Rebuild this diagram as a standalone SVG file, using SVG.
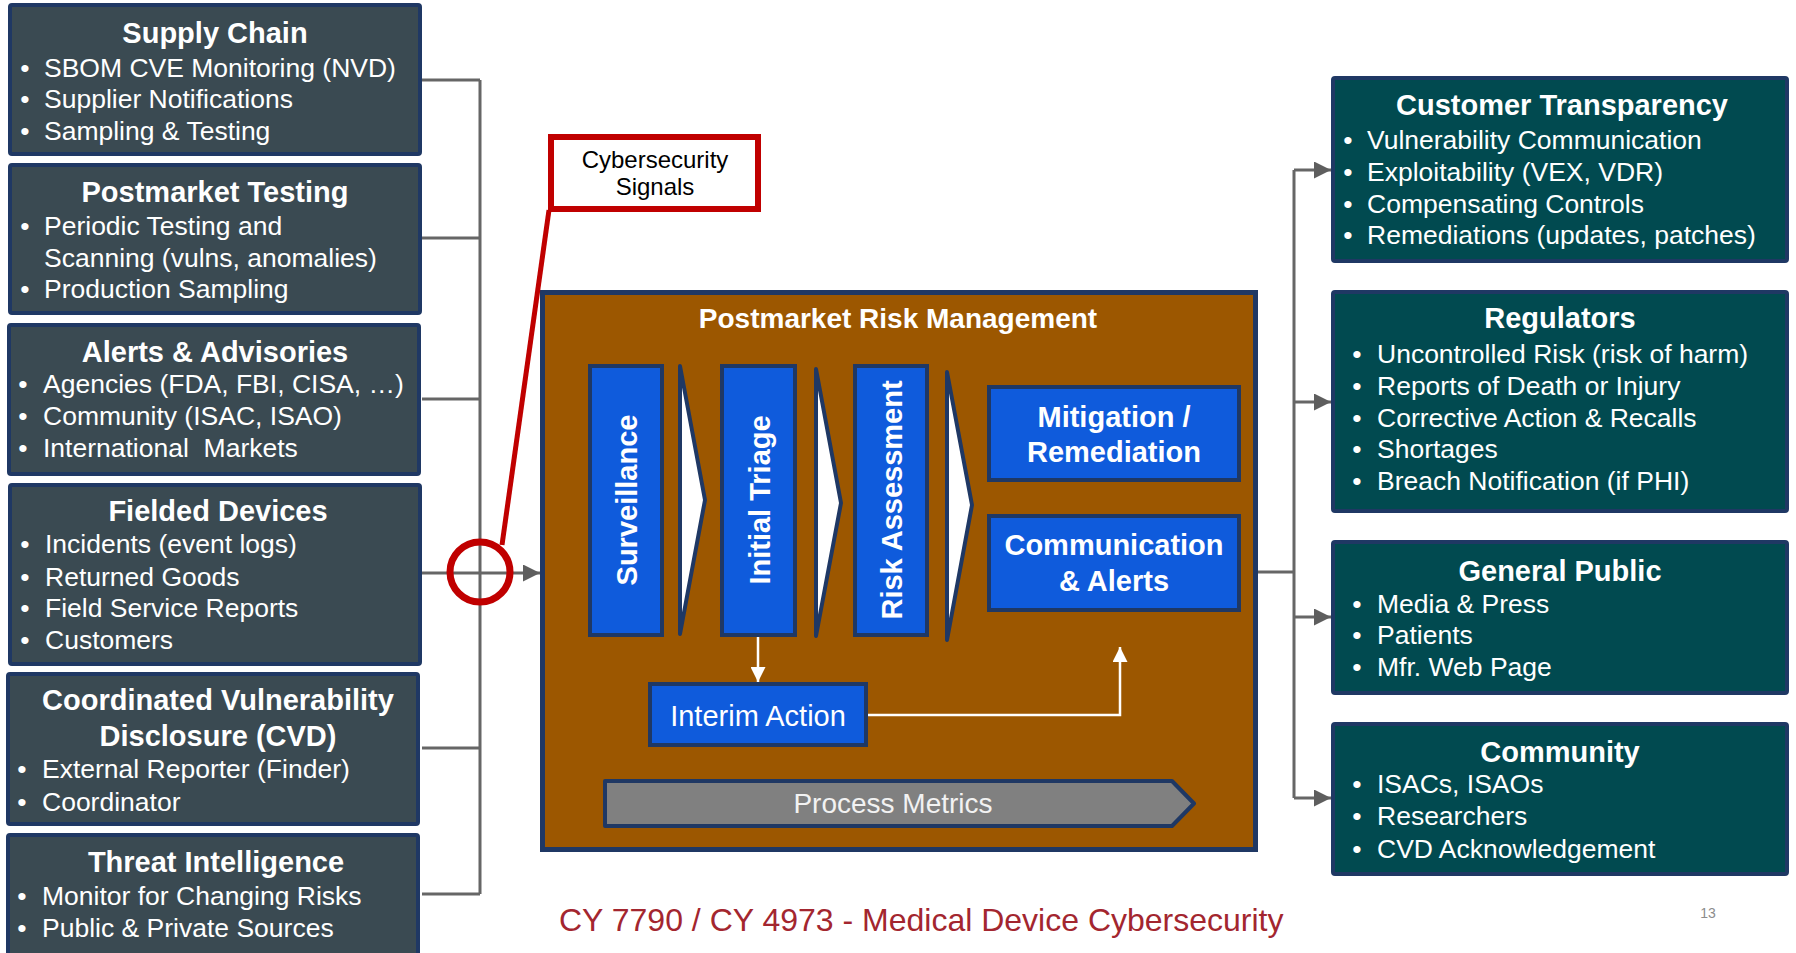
<svg xmlns="http://www.w3.org/2000/svg" width="1796" height="953" viewBox="0 0 1796 953">
  <defs>
    <marker id="ah-gray" viewBox="0 0 10 10" refX="10" refY="5" markerWidth="17" markerHeight="17" markerUnits="userSpaceOnUse" orient="auto">
      <path d="M0,0 L10,5 L0,10 z" fill="#5E5E5E"/>
    </marker>
    <marker id="ah-white" viewBox="0 0 10 10" refX="10" refY="5" markerWidth="15" markerHeight="15" markerUnits="userSpaceOnUse" orient="auto">
      <path d="M0,0 L10,5 L0,10 z" fill="#FFFFFF"/>
    </marker>
    <style>
      text { font-family: "Liberation Sans", Arial, sans-serif; fill: #FFFFFF; }
      .src rect { fill: #3A4A52; stroke: #1F3864; stroke-width: 4; }
      .dst rect { fill: #014A50; stroke: #1F3864; stroke-width: 4; }
      .t { font-size: 29px; font-weight: bold; text-anchor: middle; }
      .b { font-size: 26.5px; }
      .d { font-size: 26.5px; text-anchor: middle; }
      .step { fill: #0F5BDC; stroke: #1F3864; stroke-width: 4; }
      .chev { fill: #FFFFFF; stroke: #1F3864; stroke-width: 4; stroke-linejoin: round; }
      .vt { font-size: 29px; font-weight: bold; text-anchor: middle; }
      .bt { font-size: 29px; font-weight: bold; text-anchor: middle; }
      .wire { fill: none; stroke: #666666; stroke-width: 3; }
      .flow { fill: none; stroke: #FFFFFF; stroke-width: 2.5; }
      .sig { font-size: 24px; text-anchor: middle; fill: #000000; }
      .foot { font-size: 32px; fill: #A3262F; }
      .page { font-size: 14px; text-anchor: middle; fill: #8C8C8C; }
      .pm { font-size: 28px; text-anchor: middle; fill: #F2F2F2; }
    </style>
  </defs>

  <rect width="1796" height="953" fill="#FFFFFF"/>

  <!-- connectors -->
  <g id="connectors">
    <path class="wire" d="M422,80 H480 M422,238 H480 M422,399 H480 M422,573 H480 M422,748 H480 M422,894 H480 M480,80 V894"/>
    <path class="wire" d="M480,573 H540" marker-end="url(#ah-gray)"/>
    <path class="wire" d="M1258,572 H1294 M1294,170 V798"/>
    <path class="wire" d="M1294,170 H1331" marker-end="url(#ah-gray)"/>
    <path class="wire" d="M1294,402 H1331" marker-end="url(#ah-gray)"/>
    <path class="wire" d="M1294,617 H1331" marker-end="url(#ah-gray)"/>
    <path class="wire" d="M1294,798 H1331" marker-end="url(#ah-gray)"/>
  </g>

  <!-- source boxes -->
  <g id="supply-chain" class="src">
    <rect x="10" y="5" width="410" height="149" rx="2"/>
    <text class="t" x="215" y="43">Supply Chain</text>
    <text class="d" x="25" y="77">•</text><text class="b" x="44" y="77">SBOM CVE Monitoring (NVD)</text>
    <text class="d" x="25" y="108">•</text><text class="b" x="44" y="108">Supplier Notifications</text>
    <text class="d" x="25" y="140">•</text><text class="b" x="44" y="140">Sampling &amp; Testing</text>
  </g>

  <g id="postmarket-testing" class="src">
    <rect x="10" y="165" width="410" height="148" rx="2"/>
    <text class="t" x="215" y="202">Postmarket Testing</text>
    <text class="d" x="25" y="235">•</text><text class="b" x="44" y="235">Periodic Testing and</text>
    <text class="b" x="44" y="267">Scanning (vulns, anomalies)</text>
    <text class="d" x="25" y="298">•</text><text class="b" x="44" y="298">Production Sampling</text>
  </g>

  <g id="alerts-advisories" class="src">
    <rect x="9" y="325" width="410" height="149" rx="2"/>
    <text class="t" x="215" y="362">Alerts &amp; Advisories</text>
    <text class="d" x="23" y="393">•</text><text class="b" x="43" y="393">Agencies (FDA, FBI, CISA, …)</text>
    <text class="d" x="23" y="425">•</text><text class="b" x="43" y="425">Community (ISAC, ISAO)</text>
    <text class="d" x="23" y="457">•</text><text class="b" x="43" y="457" xml:space="preserve">International  Markets</text>
  </g>

  <g id="fielded-devices" class="src">
    <rect x="10" y="485" width="410" height="179" rx="2"/>
    <text class="t" x="218" y="521">Fielded Devices</text>
    <text class="d" x="25" y="553">•</text><text class="b" x="45" y="553">Incidents (event logs)</text>
    <text class="d" x="25" y="586">•</text><text class="b" x="45" y="586">Returned Goods</text>
    <text class="d" x="25" y="617">•</text><text class="b" x="45" y="617">Field Service Reports</text>
    <text class="d" x="25" y="649">•</text><text class="b" x="45" y="649">Customers</text>
  </g>

  <g id="cvd" class="src">
    <rect x="8" y="674" width="410" height="150" rx="2"/>
    <text class="t" x="218" y="710">Coordinated Vulnerability</text>
    <text class="t" x="218" y="746">Disclosure (CVD)</text>
    <text class="d" x="22" y="778">•</text><text class="b" x="42" y="778">External Reporter (Finder)</text>
    <text class="d" x="22" y="811">•</text><text class="b" x="42" y="811">Coordinator</text>
  </g>

  <g id="threat-intelligence" class="src">
    <rect x="8" y="835" width="410" height="125" rx="2"/>
    <text class="t" x="216" y="872">Threat Intelligence</text>
    <text class="d" x="22" y="905">•</text><text class="b" x="42" y="905">Monitor for Changing Risks</text>
    <text class="d" x="22" y="937">•</text><text class="b" x="42" y="937">Public &amp; Private Sources</text>
  </g>

  <!-- central process -->
  <g id="postmarket-risk-management">
    <rect x="542.5" y="292.5" width="713" height="557" fill="#9C5700" stroke="#1F3864" stroke-width="5"/>
    <text class="bt" x="898" y="328" style="font-size:28px">Postmarket Risk Management</text>
  </g>

  <g id="surveillance">
    <rect class="step" x="590" y="366" width="72" height="269"/>
    <text class="vt" transform="translate(637,500) rotate(-90)">Surveillance</text>
  </g>
  <polygon class="chev" points="680,366 705,500 680,634"/>

  <g id="initial-triage">
    <rect class="step" x="722" y="366" width="73" height="269"/>
    <text class="vt" transform="translate(770,500) rotate(-90)">Initial Triage</text>
  </g>
  <polygon class="chev" points="816,369 841,503 816,636"/>

  <g id="risk-assessment">
    <rect class="step" x="855" y="366" width="72" height="269"/>
    <text class="vt" transform="translate(902,500) rotate(-90)">Risk Assessment</text>
  </g>
  <polygon class="chev" points="947,372 972,505 947,640"/>

  <g id="mitigation">
    <rect class="step" x="989" y="387" width="250" height="93"/>
    <text class="bt" x="1114" y="427">Mitigation /</text>
    <text class="bt" x="1114" y="462">Remediation</text>
  </g>

  <g id="communication">
    <rect class="step" x="989" y="516" width="250" height="94"/>
    <text class="bt" x="1114" y="555">Communication</text>
    <text class="bt" x="1114" y="591">&amp; Alerts</text>
  </g>

  <g id="interim-action">
    <rect class="step" x="650" y="684" width="216" height="61"/>
    <text x="758" y="726" style="font-size:29px; text-anchor:middle">Interim Action</text>
  </g>

  <g id="inner-flows">
    <path class="flow" d="M758,637 V682" marker-end="url(#ah-white)"/>
    <path class="flow" d="M868,715 H1120 V647" marker-end="url(#ah-white)"/>
  </g>

  <g id="process-metrics">
    <polygon points="605,781 1172,781 1194,803.5 1172,826 605,826" fill="#808080" stroke="#1F3864" stroke-width="4" stroke-linejoin="round"/>
    <text class="pm" x="893" y="813">Process Metrics</text>
  </g>

  <!-- signal callout -->
  <g id="cybersecurity-signals">
    <line x1="502" y1="545" x2="549" y2="210" stroke="#C00000" stroke-width="5"/>
    <circle cx="480" cy="572" r="30" fill="none" stroke="#C00000" stroke-width="7"/>
    <rect x="551" y="137" width="207" height="72" fill="#FFFFFF" stroke="#C00000" stroke-width="6"/>
    <text class="sig" x="655" y="168">Cybersecurity</text>
    <text class="sig" x="655" y="195">Signals</text>
  </g>

  <!-- audiences -->
  <g id="customer-transparency" class="dst">
    <rect x="1333" y="78" width="454" height="183" rx="2"/>
    <text class="t" x="1562" y="115">Customer Transparency</text>
    <text class="d" x="1348" y="149">•</text><text class="b" x="1367" y="149">Vulnerability Communication</text>
    <text class="d" x="1348" y="181">•</text><text class="b" x="1367" y="181">Exploitability (VEX, VDR)</text>
    <text class="d" x="1348" y="213">•</text><text class="b" x="1367" y="213">Compensating Controls</text>
    <text class="d" x="1348" y="244">•</text><text class="b" x="1367" y="244">Remediations (updates, patches)</text>
  </g>

  <g id="regulators" class="dst">
    <rect x="1333" y="292" width="454" height="219" rx="2"/>
    <text class="t" x="1560" y="328">Regulators</text>
    <text class="d" x="1357" y="363">•</text><text class="b" x="1377" y="363">Uncontrolled Risk (risk of harm)</text>
    <text class="d" x="1357" y="395">•</text><text class="b" x="1377" y="395">Reports of Death or Injury</text>
    <text class="d" x="1357" y="427">•</text><text class="b" x="1377" y="427">Corrective Action &amp; Recalls</text>
    <text class="d" x="1357" y="458">•</text><text class="b" x="1377" y="458">Shortages</text>
    <text class="d" x="1357" y="490">•</text><text class="b" x="1377" y="490">Breach Notification (if PHI)</text>
  </g>

  <g id="general-public" class="dst">
    <rect x="1333" y="542" width="454" height="151" rx="2"/>
    <text class="t" x="1560" y="581">General Public</text>
    <text class="d" x="1357" y="613">•</text><text class="b" x="1377" y="613">Media &amp; Press</text>
    <text class="d" x="1357" y="644">•</text><text class="b" x="1377" y="644">Patients</text>
    <text class="d" x="1357" y="676">•</text><text class="b" x="1377" y="676">Mfr. Web Page</text>
  </g>

  <g id="community" class="dst">
    <rect x="1333" y="724" width="454" height="150" rx="2"/>
    <text class="t" x="1560" y="762">Community</text>
    <text class="d" x="1357" y="793">•</text><text class="b" x="1377" y="793">ISACs, ISAOs</text>
    <text class="d" x="1357" y="825">•</text><text class="b" x="1377" y="825">Researchers</text>
    <text class="d" x="1357" y="858">•</text><text class="b" x="1377" y="858">CVD Acknowledgement</text>
  </g>

  <!-- footer -->
  <text class="foot" x="559" y="931">CY 7790 / CY 4973 - Medical Device Cybersecurity</text>
  <text class="page" x="1708" y="918">13</text>
</svg>
